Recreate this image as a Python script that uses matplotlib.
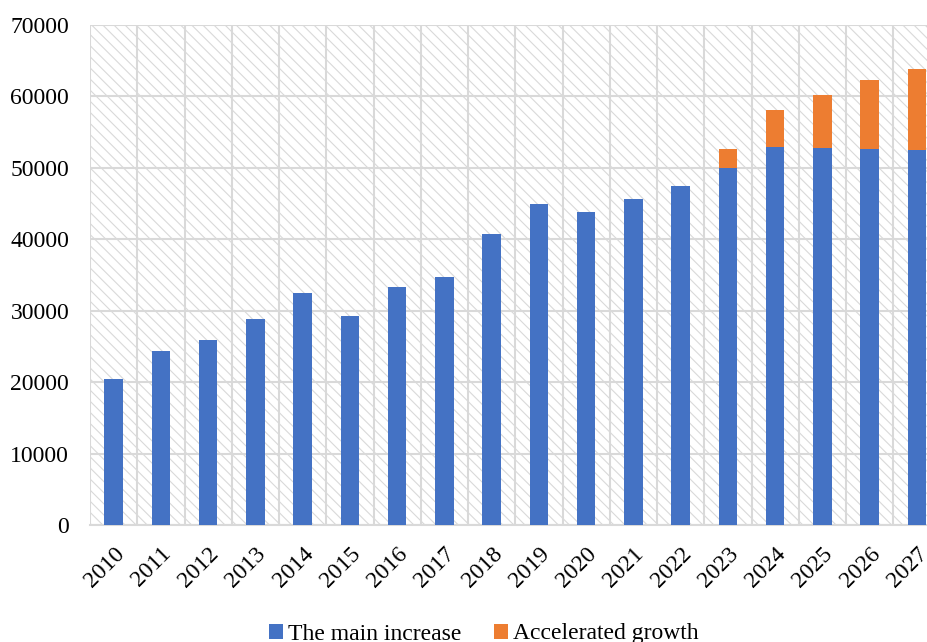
import matplotlib.pyplot as plt
import numpy as np
from matplotlib.patches import Rectangle

plt.rcParams['font.family'] = ['Liberation Serif', 'DejaVu Serif']
plt.rcParams['hatch.color'] = '#d6d6d6'
plt.rcParams['hatch.linewidth'] = 0.8

years = [str(y) for y in range(2010, 2028)]
main_increase = [20500, 24400, 25900, 28900, 32500, 29300, 33300, 34700, 40700,
                 44900, 43800, 45700, 47400, 50000, 52900, 52800, 52700, 52500]
accelerated = [0, 0, 0, 0, 0, 0, 0, 0, 0,
               0, 0, 0, 0, 2600, 5200, 7400, 9600, 11300]

BLUE = '#4472C4'
ORANGE = '#ED7D31'
GRID = '#d9d9d9'

fig = plt.figure(figsize=(9.27, 6.42), dpi=100)
ax = fig.add_axes([90 / 927, 117 / 642, 850.5 / 927, 500 / 642])

x = np.arange(len(years))
ax.set_xlim(-0.5, len(years) - 0.5)
ax.set_ylim(0, 70000)

# hatched plot background
ax.add_patch(Rectangle((0, 0), 1, 1, transform=ax.transAxes, facecolor='white',
                       edgecolor=GRID, hatch='\\\\\\', linewidth=0, zorder=0))

# grid: horizontal at major y ticks, vertical between categories
ax.set_yticks(np.arange(0, 70001, 10000))
ax.set_xticks(x)
ax.set_xticks(np.arange(-0.5, len(years), 1), minor=True)
ax.grid(axis='y', which='major', color=GRID, linewidth=1.5, zorder=1)
ax.grid(axis='x', which='minor', color=GRID, linewidth=1.5, zorder=1)
ax.set_axisbelow(True)

w = 0.39
ax.bar(x, main_increase, width=w, color=BLUE, label='The main increase', zorder=3)
ax.bar(x, accelerated, width=w, bottom=main_increase, color=ORANGE,
       label='Accelerated growth', zorder=3)

for side in ['top', 'left', 'right']:
    ax.spines[side].set_visible(False)
ax.spines['bottom'].set_color(GRID)
ax.spines['bottom'].set_linewidth(1.5)

ax.tick_params(axis='both', which='both', length=0, labelsize=17)
ax.tick_params(axis='y', pad=15)
ax.set_xticklabels(years, rotation=45, ha='right', va='top', rotation_mode='anchor')
ax.tick_params(axis='x', pad=13)

leg = fig.legend(loc='center', bbox_to_anchor=(0.522, 8 / 642), ncol=2, frameon=False,
                 fontsize=17, handlelength=0.6, handleheight=0.6,
                 handletextpad=0.2, columnspacing=1.4)

fig.savefig('out.png', dpi=100)
